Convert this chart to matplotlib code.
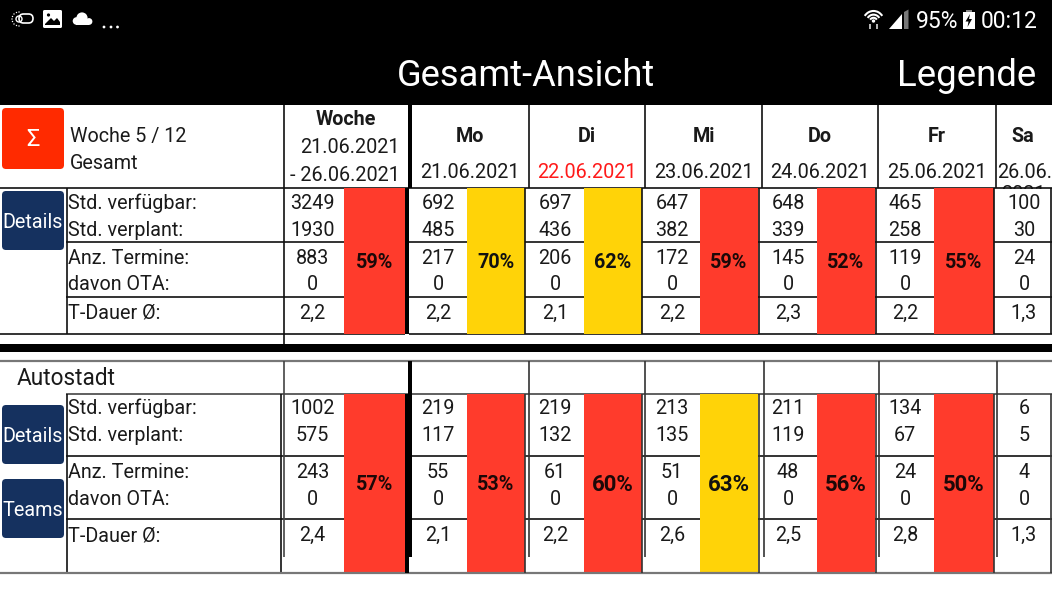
import matplotlib
matplotlib.use("Agg")
import matplotlib.pyplot as plt
from matplotlib.patches import Rectangle, FancyBboxPatch, Circle, Arc, Polygon

plt.rcParams['font.family'] = ['Roboto', 'DejaVu Sans']

# ---- data ----
title = "Gesamt-Ansicht"
legend_label = "Legende"
days = ["Mo", "Di", "Mi", "Do", "Fr", "Sa"]
dates = ["21.06.2021", "22.06.2021", "23.06.2021", "24.06.2021", "25.06.2021"]
row_labels = ["Std. verfügbar:", "Std. verplant:", "Anz. Termine:", "davon OTA:", "T-Dauer Ø:"]

top_avail = [3249, 692, 697, 647, 648, 465, 100]
top_plan = [1930, 485, 436, 382, 339, 258, 30]
top_appts = [883, 217, 206, 172, 145, 119, 24]
top_ota = [0, 0, 0, 0, 0, 0, 0]
top_dur = ["2,2", "2,2", "2,1", "2,2", "2,3", "2,2", "1,3"]
top_pct = [59, 70, 62, 59, 52, 55]

low_avail = [1002, 219, 219, 213, 211, 134, 6]
low_plan = [575, 117, 132, 135, 119, 67, 5]
low_appts = [243, 55, 61, 51, 48, 24, 4]
low_ota = [0, 0, 0, 0, 0, 0, 0]
low_dur = ["2,4", "2,1", "2,2", "2,6", "2,5", "2,8", "1,3"]
low_pct = [57, 53, 60, 63, 56, 50]
low_pct_size = [14.2, 14.2, 16, 16, 16, 16]
low_yellow = [False, False, False, True, False, False]
top_yellow = [False, True, True, False, False, False]

# ---- layout (pixels) ----
RED, YELLOW, NAVY = "#FF3B2C", "#FFD308", "#15315F"
val_x = [312.5, 438, 555, 672, 788, 905, 1024]
col_l = [344, 467, 584, 700, 817, 934]
col_r = [404.5, 524.5, 641.5, 758, 875, 994]
day_x = [470, 587, 704, 820, 937, 1023]
head_lines = [528.5, 645, 761.5, 878, 995.5]
low_head_lines = [528.5, 645, 764, 878.5, 997]
cell_lines = [525, 641.5, 758.5, 875.5, 994, 1051]
FS = 14.2
DY = 1.5

fig = plt.figure(figsize=(10.52, 5.92), dpi=100)
ax = fig.add_axes([0, 0, 1, 1])
ax.set_xlim(0, 1052)
ax.set_ylim(592, 0)
ax.axis("off")


def T(x, y, s, size=FS, color="#1a1a1a", ha="center", weight="normal", z=6):
    ax.text(x, y + DY, s, fontsize=size, color=color, ha=ha, va="center", fontweight=weight, zorder=z)


def H(y, x0, x1, c="#111111", lw=1.2, z=4):
    ax.plot([x0, x1], [y, y], color=c, lw=lw, solid_capstyle="butt", zorder=z)


def V(x, y0, y1, c="#111111", lw=1.2, z=4):
    ax.plot([x, x], [y0, y1], color=c, lw=lw, solid_capstyle="butt", zorder=z)


def button(x0, y0, x1, y1, color, label, size=14.2):
    r = 4
    ax.add_patch(FancyBboxPatch((x0 + r, y0 + r), x1 - x0 - 2 * r, y1 - y0 - 2 * r,
                                boxstyle=f"round,pad={r},rounding_size={r}", fc=color, ec="none", zorder=5))
    T((x0 + x1) / 2, (y0 + y1) / 2, label, size=size, color="white")


# header band
ax.add_patch(Rectangle((0, 0), 1052, 105, fc="black", ec="none", zorder=1))
T(526, 74.5, title, size=26.2, color="white")
T(966.5, 74.5, legend_label, size=26.4, color="white")

# status bar: left icons
ax.add_patch(Circle((19, 19), 3, fc="none", ec="white", lw=1, zorder=3))
for dx, dy in [(-7, 0), (-5, -5), (0, -7), (-5, 5), (0, 7), (-2.5, -6.5), (-6.5, 2.5), (-6.5, -2.5), (-2.5, 6.5)]:
    ax.add_patch(Circle((19 + dx, 19 + dy), 0.7, fc="white", ec="none", zorder=3))
ax.add_patch(FancyBboxPatch((19, 14), 14, 9, boxstyle="round,pad=0,rounding_size=4.5", fc="none", ec="white", lw=1.2, zorder=3))
ax.add_patch(FancyBboxPatch((44, 11), 17, 16, boxstyle="round,pad=1,rounding_size=1.5", fc="white", ec="none", zorder=3))
ax.add_patch(Polygon([(45, 24), (51, 18), (54, 21), (57, 18), (60, 22), (60, 25), (45, 25)], fc="black", ec="none", zorder=4))
ax.add_patch(Circle((48.5, 15), 1.6, fc="black", ec="none", zorder=4))
for cx, cy, cr in [(76.5, 21, 3.8), (82, 18, 5.6), (89, 21.5, 3.4)]:
    ax.add_patch(Circle((cx, cy), cr, fc="white", ec="none", zorder=3))
ax.add_patch(Rectangle((76, 21), 13, 3.9, fc="white", ec="none", zorder=3))
for cx in (104, 111, 117.5):
    ax.add_patch(Circle((cx, 27), 1.4, fc="white", ec="none", zorder=3))

# status bar: right icons
for d in (8, 14, 21):
    ax.add_patch(Arc((873.5, 22), d, d * 1.05, theta1=215, theta2=325, ec="white", lw=1.5, zorder=3))
ax.add_patch(Circle((873.5, 21), 1.7, fc="white", ec="none", zorder=3))
for x in (870, 877):
    V(x, 24, 29, c="#BBBBBB", lw=1.4)
ax.add_patch(Polygon([(889, 29), (902, 14), (902, 29)], fc="white", ec="none", zorder=3))
ax.add_patch(Polygon([(904, 12), (908.5, 9.5), (908.5, 29), (904, 29)], fc="#777777", ec="none", zorder=3))
T(937, 20, "95%", size=16.5, color="white")
ax.add_patch(Rectangle((962.5, 12), 12.5, 17, fc="white", ec="none", zorder=3))
ax.add_patch(Rectangle((965.5, 10), 6.5, 2, fc="#888888", ec="none", zorder=3))
ax.add_patch(Polygon([(970, 14), (965.5, 21.5), (968.5, 21.5), (967.5, 27), (972, 19), (969, 19)], fc="black", ec="none", zorder=4))
T(1009, 20, "00:12", size=16.5, color="white")

# top-left header
button(2, 108, 64, 169, "#FF2A00", "Σ", size=17)
T(70, 135, "Woche 5 / 12", ha="left")
T(70, 162, "Gesamt", ha="left")
T(346, 118, "Woche", weight="bold")
T(400, 146, "21.06.2021", ha="right", size=14.3)
T(400, 174, "- 26.06.2021", ha="right", size=14.3)

for i, d in enumerate(days):
    T(day_x[i], 135, d, weight="bold")
for i, d in enumerate(dates):
    T(day_x[i], 171.5, d, color="#FF1A1A" if i == 1 else "#1a1a1a", size=14.3)
T(997, 171.5, "26.06.", ha="left", size=14.3)
T(1023, 193, "2021", size=14.3, z=2)
ax.add_patch(Rectangle((996, 188.5), 56, 30, fc="white", ec="none", zorder=3))


def block(flags, pct, pct_sizes, y0, y1, dy):
    for i, p in enumerate(pct):
        c = YELLOW if flags[i] else RED
        ax.add_patch(Rectangle((col_l[i], y0), col_r[i] - col_l[i], y1 - y0, fc=c, ec="none", zorder=5))
        T((col_l[i] + col_r[i]) / 2, (y0 + y1) / 2 + dy, f"{p}%", size=pct_sizes[i],
          weight="bold", color="#1c0808" if c == RED else "#111111")


# ---- upper block ----
ty = [202, 229, 256.5, 283.5, 311.5]
for y, lab in zip(ty, row_labels):
    T(68, y, lab, ha="left")
for i in range(7):
    for y, s in zip(ty, [top_avail[i], top_plan[i], top_appts[i], top_ota[i], top_dur[i]]):
        T(val_x[i], y, s)
block(top_yellow, top_pct, [14.2] * 6, 188, 334, 0.0)
button(2, 191, 64, 250, NAVY, "Details")

H(188, 0, 1052)
H(334, 0, 405)
H(334, 409, 1052)
for y in (242, 297):
    H(y, 66, 1052)
V(66.5, 188, 334)
V(283.5, 105, 352)
ax.add_patch(Rectangle((408, 105), 4, 83, fc="black", ec="none", zorder=4))
ax.add_patch(Rectangle((405, 188), 4, 146, fc="black", ec="none", zorder=6))
for x in head_lines:
    V(x, 105, 188)
for x in cell_lines:
    V(x, 188, 334, z=6)

# separator
ax.add_patch(Rectangle((0, 344), 1052, 8, fc="black", ec="none", zorder=4))

# ---- lower block ----
ly = [407, 434, 471, 498, 534]
for y, lab in zip(ly, row_labels):
    T(68, y, lab, ha="left")
T(17, 377, "Autostadt", ha="left", size=16.3)
for i in range(7):
    for y, s in zip(ly, [low_avail[i], low_plan[i], low_appts[i], low_ota[i], low_dur[i]]):
        T(val_x[i], y, s)
block(low_yellow, low_pct, low_pct_size, 393.5, 572.5, 0.5)
button(2, 405, 64, 464, NAVY, "Details")
button(2, 479, 64, 538, NAVY, "Teams")

H(361, 0, 1052, c="#777777", lw=1.6)
H(393.5, 66, 1052, c="#444444")
H(572.5, 0, 1052, c="#777777", lw=1.6, z=6)
for y in (455.5, 518.5):
    H(y, 66, 1052)
V(66.5, 393.5, 572.5)
V(280.5, 393.5, 572.5)
V(283.5, 361, 557, c="#444444")
ax.add_patch(Rectangle((408, 361), 4, 196, fc="black", ec="none", zorder=6))
ax.add_patch(Rectangle((405, 393.5), 4, 179, fc="black", ec="none", zorder=6))
for x in low_head_lines:
    V(x, 361, 557, c="#333333", z=6)
for x in cell_lines:
    V(x, 393.5, 572.5, c="#333333", z=6)

fig.savefig("out.png", dpi=100, facecolor="white")
